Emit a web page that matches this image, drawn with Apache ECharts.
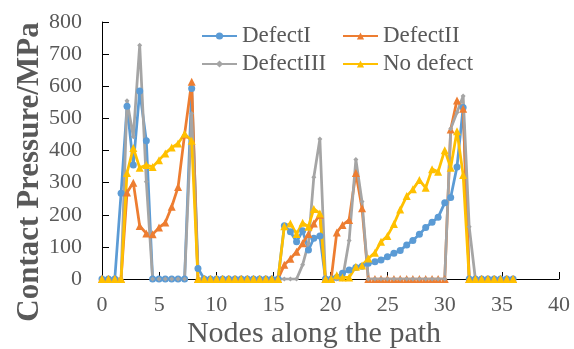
<!DOCTYPE html>
<html>
<head>
<meta charset="utf-8">
<script src="https://cdn.jsdelivr.net/npm/echarts@6/dist/echarts.min.js"></script>
<style>
  html, body { margin: 0; padding: 0; background: #fff; }
  #chart { width: 574px; height: 349px; }
</style>
</head>
<body>
<div id="chart"></div>
<script>
// Node positions along the path
const nodes = [
  0, 0.56, 1.12, 1.67, 2.19, 2.74, 3.30, 3.88, 4.43, 4.99,
  5.54, 6.10, 6.66, 7.23, 7.85, 8.40, 8.95, 9.49, 10.03, 10.56,
  11.10, 11.64, 12.18, 12.72, 13.26, 13.80, 14.34, 14.87, 15.41, 15.96,
  16.49, 17.03, 17.56, 18.07, 18.54, 19.07, 19.56, 20.06, 20.55, 21.05,
  21.63, 22.22, 22.76, 23.31, 23.89, 24.42, 24.98, 25.55, 26.10, 26.67,
  27.21, 27.78, 28.33, 28.89, 29.42, 30.00, 30.52, 31.07, 31.61, 32.14,
  32.68, 33.23, 33.78, 34.32, 34.88, 35.43, 35.98
];

// Contact pressure (MPa) per node
const defectI = [
  0, 0, 0, 267, 538, 355, 585, 430, 0, 0,
  0, 0, 0, 0, 593, 33, 0, 0, 0, 0,
  0, 0, 0, 0, 0, 0, 0, 0, 0, 166,
  147, 116, 150, 90, 127, 134, 0, 0, 5, 18,
  28, 36, 40, 49, 54, 59, 69, 80, 89, 106,
  120, 139, 160, 177, 192, 237, 254, 349, 534, 0,
  0, 0, 0, 0, 0, 0, 0
];
const defectII = [
  0, 0, 0, 0, 269, 300, 165, 142, 139, 160,
  176, 225, 286, 450, 614, 0, 0, 0, 0, 0,
  0, 0, 0, 0, 0, 0, 0, 0, 0, 44,
  63, 85, 111, 140, 173, 200, 0, 0, 145, 168,
  184, 330, 220, 0, 0, 0, 0, 0, 0, 0,
  0, 0, 0, 0, 0, 0, 465, 556, 530, 0,
  0, 0, 0, 0, 0, 0, 0
];
const defectIII = [
  0, 0, 0, 0, 555, 443, 728, 303, 0, 0,
  0, 0, 0, 0, 515, 0, 0, 0, 0, 0,
  0, 0, 0, 0, 0, 0, 0, 0, 0, 0,
  0, 0, 44, 111, 317, 436, 0, 0, 0, 0,
  120, 372, 241, 0, 0, 0, 0, 0, 0, 0,
  0, 0, 0, 0, 0, 0, 468, 518, 570, 163,
  0, 0, 0, 0, 0, 0, 0
];
const noDefect = [
  0, 0, 0, 0, 330, 408, 346, 355, 349, 370,
  391, 409, 422, 452, 430, 0, 0, 0, 0, 0,
  0, 0, 0, 0, 0, 0, 0, 0, 0, 164,
  173, 140, 175, 163, 218, 204, 0, 0, 12, 5,
  5, 38, 42, 64, 82, 116, 134, 171, 216, 258,
  279, 308, 284, 342, 334, 401, 346, 460, 324, 0,
  0, 0, 0, 0, 0, 0, 0
];

const seriesNames = ['DefectI', 'DefectII', 'DefectIII', 'No defect'];
const seriesValues = [defectI, defectII, defectIII, noDefect];
const colors = ['#5B9BD5', '#ED7D31', '#A5A5A5', '#FFC000'];
const symbols = ['circle', 'triangle', 'diamond', 'triangle'];
const symbolSizes = [7, 8, 5, 8];

const FONT = '"Liberation Serif", "Times New Roman", serif';
const TEXT = '#595959';

const chart = echarts.init(document.getElementById('chart'));

const series = seriesNames.map((name, k) => ({
  name: name,
  type: 'line',
  data: nodes.map((x, i) => [x, seriesValues[k][i]]),
  symbol: symbols[k],
  symbolSize: symbolSizes[k],
  showAllSymbol: true,
  lineStyle: { color: colors[k], width: 2.75 },
  itemStyle: { color: colors[k] },
  emphasis: { disabled: true }
}));

const legendCommon = {
  orient: 'vertical',
  top: 19,
  itemWidth: 35,
  itemHeight: 9,
  itemGap: 4,
  textStyle: { fontFamily: FONT, fontSize: 23, color: TEXT, lineHeight: 24 }
};

chart.setOption({
  animation: false,
  color: colors,
  grid: { left: 102, right: 15, top: 22, bottom: 70 },
  legend: [
    Object.assign({ left: 196, data: ['DefectI', 'DefectIII'] }, legendCommon),
    Object.assign({ left: 337, data: ['DefectII', 'No defect'] }, legendCommon)
  ],
  xAxis: {
    type: 'value',
    min: 0,
    max: 40,
    interval: 5,
    axisLine: { show: true, lineStyle: { color: '#000', width: 1 } },
    axisTick: { show: true, inside: true, length: 7, lineStyle: { color: '#000' } },
    axisLabel: { fontFamily: FONT, fontSize: 22, color: TEXT, margin: 15 },
    splitLine: { show: false }
  },
  yAxis: {
    type: 'value',
    min: 0,
    max: 800,
    interval: 100,
    axisLine: { show: true, lineStyle: { color: '#000', width: 1 } },
    axisTick: { show: true, inside: true, length: 7, lineStyle: { color: '#000' } },
    axisLabel: { fontFamily: FONT, fontSize: 22, color: TEXT, margin: 20 },
    splitLine: { show: false }
  },
  graphic: [
    {
      type: 'text',
      x: 314,
      y: 334,
      style: {
        text: 'Nodes along the path',
        font: '30px ' + FONT,
        fill: TEXT,
        textAlign: 'center',
        textVerticalAlign: 'middle'
      }
    },
    {
      type: 'text',
      x: 30,
      y: 172,
      rotation: Math.PI / 2,
      style: {
        text: 'Contact Pressure/MPa',
        font: 'bold 31px ' + FONT,
        fill: TEXT,
        textAlign: 'center',
        textVerticalAlign: 'middle'
      }
    }
  ],
  series: series
});
</script>
</body>
</html>
